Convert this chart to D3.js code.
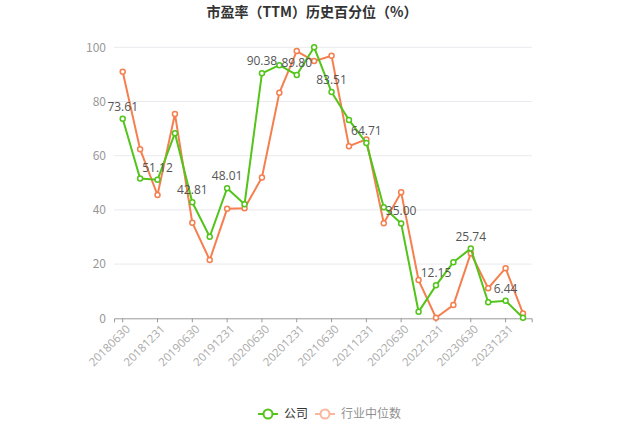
<!DOCTYPE html>
<html><head><meta charset="utf-8">
<script src="https://cdn.jsdelivr.net/npm/d3@7"></script>
<style>html,body{margin:0;padding:0;background:#fff;}svg{display:block;font-family:"Noto Sans CJK SC","Noto Sans",sans-serif;}</style>
</head><body><svg id="c" width="625" height="436"></svg>
<script>
const categories = ["20180630","20180930","20181231","20190331","20190630","20190930","20191231","20200331","20200630","20200930","20201231","20210331","20210630","20210930","20211231","20220331","20220630","20220930","20221231","20230331","20230630","20230930","20231231","20240331"];
const companyValues = [73.61,51.6,51.12,68.3,42.81,30.1,48.01,42.1,90.38,93.4,89.80,100,83.51,73.2,64.71,41.0,35.00,2.4,12.15,20.7,25.74,5.9,6.44,0.2];
const industryValues = [91.0,62.4,45.5,75.4,35.3,21.5,40.4,40.6,52.0,83.2,98.6,94.9,96.9,63.5,66.0,35.1,46.5,14.1,0.2,4.9,24.0,11.1,18.5,1.8];
const yTicks = [0,20,40,60,80,100];
const seriesNames = ["公司","行业中位数"];
const colors = ["#52c41a","#f57f4f"];

(function(){
const svg = d3.select("#c");
const pLeft = 114, pRight = 531.7, pTop = 47.3, pBottom = 318.3;
const x = d3.scaleBand().domain(categories).range([pLeft, pRight]);
const y = d3.scaleLinear().domain([0,100]).range([pBottom, pTop]);
const cx = d => x(d) + x.bandwidth()/2;

svg.append("text").attr("x",312).attr("y",17).attr("text-anchor","middle")
  .attr("font-size",14).attr("font-weight","bold").attr("fill","#333").text("市盈率（TTM）历史百分位（%）");

svg.append("g").selectAll("line").data(yTicks.filter(t=>t>0)).join("line")
  .attr("x1",pLeft).attr("x2",pRight).attr("y1",d=>y(d)).attr("y2",d=>y(d))
  .attr("stroke","#e9e9ef").attr("stroke-width",1);
svg.append("g").selectAll("text").data(yTicks).join("text")
  .attr("x",pLeft-8).attr("y",d=>y(d)).attr("dy","0.35em").attr("text-anchor","end")
  .attr("font-size",12).attr("fill","#999").text(d=>d);

const xAxis = d3.axisBottom(x).tickSize(4).tickValues(categories.filter((d,i)=>i%2===0)).tickFormat(d=>d);
const gx = svg.append("g").attr("transform",`translate(0,${pBottom})`).call(xAxis);
gx.select(".domain").attr("stroke","#999");
gx.selectAll(".tick line").attr("stroke","#999");
gx.selectAll(".tick text").attr("fill","#aaa").attr("font-size",11.5)
  .attr("text-anchor","end").attr("transform","rotate(-45)").attr("dx","-0.2em").attr("dy","0.6em")
  .style("font-family","'Open Sans','Noto Sans',sans-serif");

const line = d3.line().x((d,i)=>cx(categories[i])).y(d=>y(d));
[industryValues, companyValues].forEach((vals, k) => {
  const c = k===0 ? colors[1] : colors[0];
  svg.append("path").datum(vals).attr("d",line).attr("fill","none").attr("stroke",c).attr("stroke-width",2);
  svg.append("g").selectAll("circle").data(vals).join("circle")
    .attr("cx",(d,i)=>cx(categories[i])).attr("cy",d=>y(d)).attr("r",2.5)
    .attr("fill","#fff").attr("stroke",c).attr("stroke-width",1.5);
});

svg.append("g").selectAll("text").data(companyValues.map((v,i)=>({v,i})).filter(d=>d.i%2===0)).join("text")
  .attr("x",d=>cx(categories[d.i])).attr("y",d=>y(d.v)-8).attr("text-anchor","middle")
  .attr("font-size",12).attr("fill","#555").style("font-family","'Open Sans','Noto Sans',sans-serif")
  .text(d=>d.v.toFixed(2));

const lg = svg.append("g");
const legendItems = [{name:seriesNames[0],color:colors[0],x:258,op:1},{name:seriesNames[1],color:colors[1],x:315,op:0.55}];
legendItems.forEach(it=>{
  const g = lg.append("g").attr("opacity",it.op);
  g.append("line").attr("x1",it.x).attr("x2",it.x+20).attr("y1",414).attr("y2",414).attr("stroke",it.color).attr("stroke-width",2);
  g.append("circle").attr("cx",it.x+10).attr("cy",414).attr("r",4.5).attr("fill","#fff").attr("stroke",it.color).attr("stroke-width",2);
  g.append("text").attr("x",it.x+26).attr("y",414).attr("dy","0.35em").attr("font-size",12).attr("fill","#333").text(it.name);
});
})();
</script></body></html>
